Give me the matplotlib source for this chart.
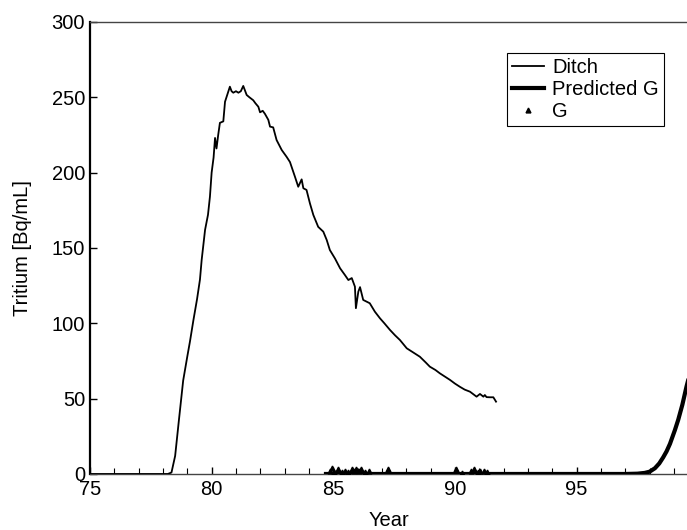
import matplotlib.pyplot as plt
import numpy as np
from matplotlib.ticker import MultipleLocator

# ditch tritium record
ditch_year = [75.0, 76.0, 77.0, 78.0, 78.2, 78.35, 78.5, 78.65, 78.83, 79.0, 79.11, 79.25,
              79.4, 79.52, 79.59, 79.73, 79.85, 79.93, 80.0, 80.08, 80.14, 80.2, 80.27,
              80.34, 80.48, 80.55, 80.65, 80.75, 80.82, 80.89, 81.0, 81.1, 81.2, 81.3,
              81.44, 81.55, 81.71, 81.8, 81.92, 81.99, 82.1, 82.19, 82.26, 82.33, 82.4,
              82.53, 82.67, 82.88, 83.08, 83.22, 83.43, 83.56, 83.7, 83.77, 83.9, 84.04,
              84.18, 84.38, 84.59, 84.73, 84.86, 85.07, 85.28, 85.48, 85.62, 85.76,
              85.89, 85.93, 86.03, 86.1, 86.23, 86.5, 86.71, 86.92, 87.1, 87.33, 87.54,
              87.74, 88.02, 88.3, 88.56, 88.8, 88.97, 89.2, 89.38, 89.6, 89.8, 90.0,
              90.2, 90.4, 90.62, 90.89, 91.03, 91.17, 91.23, 91.3, 91.44, 91.58, 91.69]
ditch_val = [0, 0, 0, 0, 0, 1, 12, 35, 62, 78, 88, 102,
             116, 129, 142, 162, 172, 184, 200, 210, 223, 216, 225,
             233, 234, 247, 252, 257, 254, 253, 254, 253, 254, 257.5,
             251.5, 250, 248, 246, 243.7, 240, 241, 239, 237, 235, 230.5,
             230, 221.6, 215, 210.5, 207, 197, 190.6, 195.5, 189.6, 188.5, 179.6,
             171.9, 164, 160.8, 155.3, 148.6, 143, 136.5, 132, 128.7, 130,
             124.3, 110, 121, 124, 115.5, 113.3, 107.7, 103.3, 100, 95.6, 92,
             88.9, 83.4, 80.5, 77.8, 74, 71.2, 69, 66.8, 64.5, 62.4, 60,
             57.9, 56, 54.6, 51.3, 53.1, 51.3, 52.4, 51, 50.9, 50.9, 48]

# predicted G
pred_year = [84.7, 86.0, 88.0, 90.0, 92.0, 94.0, 96.0, 97.0, 97.5, 97.8, 98.0, 98.22,
             98.4, 98.56, 98.7, 98.84, 99.04, 99.18, 99.35, 99.52, 99.6]
pred_val = [0, 0, 0, 0, 0, 0, 0, 0, 0.2, 0.7, 1.5, 3.8,
            7, 11, 15, 20, 29, 36, 46, 58, 63]

# observed G
g_year = [84.85, 84.95, 85.05, 85.2, 85.35, 85.5, 85.6, 85.75, 85.85, 85.95, 86.05,
          86.15, 86.3, 86.45, 87.25, 90.05, 90.3, 90.65, 90.8, 90.95, 91.05, 91.2, 91.3]
g_val = [2, 4, 1, 3, 1, 2, 1, 3, 2, 3, 2,
         3, 1, 2, 3, 3, 0.5, 2, 3, 1, 2, 2, 1]

plt.rcParams['font.family'] = ['Liberation Sans', 'DejaVu Sans']

fig = plt.figure(figsize=(6.87, 5.30), dpi=100)
ax = fig.add_axes([0.131, 0.1057, 0.869, 0.853])

ax.plot(ditch_year, ditch_val, color='black', linewidth=1.3, label='Ditch', zorder=3)
ax.plot(pred_year, pred_val, color='black', linewidth=3, label='Predicted G', zorder=4)
ax.plot(g_year, g_val, linestyle='none', marker='^', markersize=3.5, color='black',
        label='G', zorder=5)

ax.set_xlim(75, 99.54)
ax.set_ylim(0, 300)
ax.xaxis.set_major_locator(MultipleLocator(5))
ax.xaxis.set_minor_locator(MultipleLocator(1))
ax.yaxis.set_major_locator(MultipleLocator(50))
ax.tick_params(axis='both', which='major', direction='in', length=5, width=1,
               labelsize=14.5, colors='black')
ax.tick_params(axis='x', which='minor', direction='in', length=4, width=0.8)
ax.tick_params(axis='x', pad=4)

ax.spines['right'].set_visible(False)
ax.spines['left'].set_linewidth(1.6)
ax.spines['top'].set_linewidth(1.0)
ax.spines['top'].set_color('#444444')
ax.spines['bottom'].set_linewidth(1.0)
ax.spines['bottom'].set_color('#444444')

ax.set_xlabel('Year', fontsize=14.5, labelpad=9)
ax.set_ylabel('Tritium [Bq/mL]', fontsize=14.5, labelpad=14)

leg = ax.legend(loc='upper right', bbox_to_anchor=(0.961, 0.931), borderaxespad=0,
                fontsize=14.5, fancybox=False, framealpha=1, edgecolor='black',
                handlelength=1.6, handletextpad=0.4, borderpad=0.25, labelspacing=0.15)
leg.get_frame().set_linewidth(0.8)

fig.savefig('out.png', dpi=100)
